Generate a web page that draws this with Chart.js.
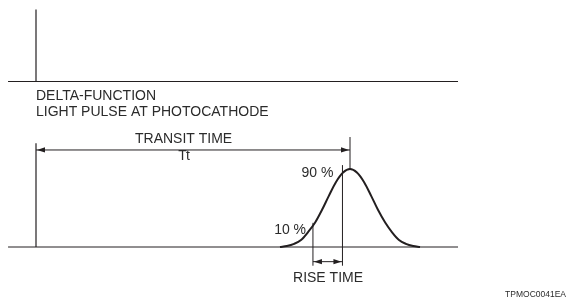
<!DOCTYPE html>
<html>
<head>
<meta charset="utf-8">
<script src="https://cdn.jsdelivr.net/npm/chart.js@4.4.1/dist/chart.umd.min.js"></script>
<style>
    html, body { margin: 0; padding: 0; background: #fff; }
    #wrap { width: 578px; height: 303px; }
</style>
</head>
<body>
<div id="wrap"><canvas id="pulseChart" width="578" height="303"></canvas></div>
<script>
// time axis (arbitrary units), light pulse hits the photocathode at t = 0
const transitTime = 10;
const riseStart = 8.82;   // 10 % point
const riseEnd = 9.76;     // 90 % point
const baseLineTimes = [-0.89, 13.44];

// delta-function light pulse (top trace, % of peak)
const deltaTimes = [0, 0];
const deltaValues = [0, 100];

// anode output pulse (bottom trace, % of peak)
const pulseTimes = [7.77, 7.99, 8.22, 8.44, 8.66, 8.89, 9.11, 9.33, 9.55, 9.78, 10.0,
                    10.22, 10.45, 10.67, 10.89, 11.12, 11.34, 11.56, 11.78, 12.01, 12.23];
const pulseValues = [0, 1.2, 4, 9, 18.9, 31.4, 47.7, 65.9, 83.1, 95.5, 100,
                     95.5, 83.1, 65.9, 47.7, 31.4, 18.9, 9, 4, 1.2, 0];

// marker lines (bottom trace units)
const originMarker = [0, 133];
const transitMarker = [100, 141];
const riseStartMarker = [-24, 31];
const riseEndMarker = [-24, 105];
const transitArrowLevel = 124.4;
const riseArrowLevel = -18.8;

const lineColor = '#231f20';
const textColor = '#2b2b2b';
const font = '14px "Liberation Sans", Arial, sans-serif';

function pts(xs, ys) {
    return xs.map((x, i) => ({ x: x, y: ys[i] }));
}

function seg(x0, x1, y0, y1, axis, width) {
    return {
        data: [{ x: x0, y: y0 }, { x: x1, y: y1 }],
        yAxisID: axis,
        borderColor: lineColor,
        borderWidth: width || 1,
        showLine: true,
        pointRadius: 0,
        tension: 0
    };
}

// arrow heads + text labels
const annotate = {
    id: 'annotate',
    afterDatasetsDraw(chart) {
        const ctx = chart.ctx;
        const x = chart.scales.x;
        const yb = chart.scales.yBottom;
        const yt = chart.scales.yTop;

        function head(px, py, dir) {
            ctx.beginPath();
            ctx.moveTo(px, py);
            ctx.lineTo(px - dir * 8, py - 2.6);
            ctx.lineTo(px - dir * 8, py + 2.6);
            ctx.closePath();
            ctx.fill();
        }

        ctx.save();
        ctx.fillStyle = lineColor;
        const ta = yb.getPixelForValue(transitArrowLevel);
        head(x.getPixelForValue(0) + 1, ta, -1);
        head(x.getPixelForValue(transitTime) - 1, ta, 1);
        const ra = yb.getPixelForValue(riseArrowLevel);
        head(x.getPixelForValue(riseStart) + 1, ra, -1);
        head(x.getPixelForValue(riseEnd) - 1, ra, 1);

        function label(text, t, py, align) {
            ctx.textAlign = align;
            ctx.textBaseline = 'middle';
            ctx.fillText(text, x.getPixelForValue(t), py);
        }

        ctx.fillStyle = textColor;
        ctx.font = font;
        label('DELTA-FUNCTION', 0, yt.getPixelForValue(-20), 'left');
        label('LIGHT PULSE AT PHOTOCATHODE', 0, yt.getPixelForValue(-42.4), 'left');
        label('TRANSIT TIME', 4.7, yb.getPixelForValue(137.8), 'center');
        ctx.letterSpacing = '-1px';
        label('Tt', 4.7, yb.getPixelForValue(116.7), 'center');
        ctx.letterSpacing = '0px';
        label('90 %', 9.47, yb.getPixelForValue(94.9), 'right');
        label('10 %', 8.6, yb.getPixelForValue(21.8), 'right');
        label('RISE TIME', 9.3, yb.getPixelForValue(-39.7), 'center');
        ctx.font = '8.5px "Liberation Sans", Arial, sans-serif';
        label('TPMOC0041EA', 16.88, yb.getPixelForValue(-61.5), 'right');
        ctx.restore();
    }
};

function initPulseChart() {
    const ctx = document.getElementById('pulseChart').getContext('2d');
    new Chart(ctx, {
        type: 'scatter',
        data: {
            datasets: [
                // top trace
                seg(baseLineTimes[0], baseLineTimes[1], 0, 0, 'yTop'),
                {
                    data: pts(deltaTimes, deltaValues),
                    yAxisID: 'yTop',
                    borderColor: lineColor,
                    borderWidth: 1.2,
                    showLine: true,
                    pointRadius: 0
                },
                // bottom trace
                seg(baseLineTimes[0], baseLineTimes[1], 0, 0, 'yBottom'),
                seg(0, 0, originMarker[0], originMarker[1], 'yBottom', 1.2),
                seg(transitTime, transitTime, transitMarker[0], transitMarker[1], 'yBottom'),
                seg(riseStart, riseStart, riseStartMarker[0], riseStartMarker[1], 'yBottom'),
                seg(riseEnd, riseEnd, riseEndMarker[0], riseEndMarker[1], 'yBottom'),
                seg(0, transitTime, transitArrowLevel, transitArrowLevel, 'yBottom'),
                seg(riseStart, riseEnd, riseArrowLevel, riseArrowLevel, 'yBottom'),
                {
                    data: pts(pulseTimes, pulseValues),
                    yAxisID: 'yBottom',
                    borderColor: lineColor,
                    borderWidth: 2,
                    showLine: true,
                    pointRadius: 0,
                    cubicInterpolationMode: 'monotone'
                }
            ]
        },
        options: {
            responsive: false,
            animation: false,
            devicePixelRatio: 1,
            layout: { padding: 0 },
            scales: {
                x: { type: 'linear', display: false, min: -1.1465, max: 17.261 },
                yTop: { type: 'linear', display: false, min: -307.6, max: 113.19 },
                yBottom: { type: 'linear', display: false, min: -71.79, max: 316.67 }
            },
            plugins: {
                legend: { display: false },
                tooltip: { enabled: false }
            }
        },
        plugins: [annotate]
    });
}

document.addEventListener('DOMContentLoaded', () => {
    initPulseChart();
});
</script>
</body>
</html>
